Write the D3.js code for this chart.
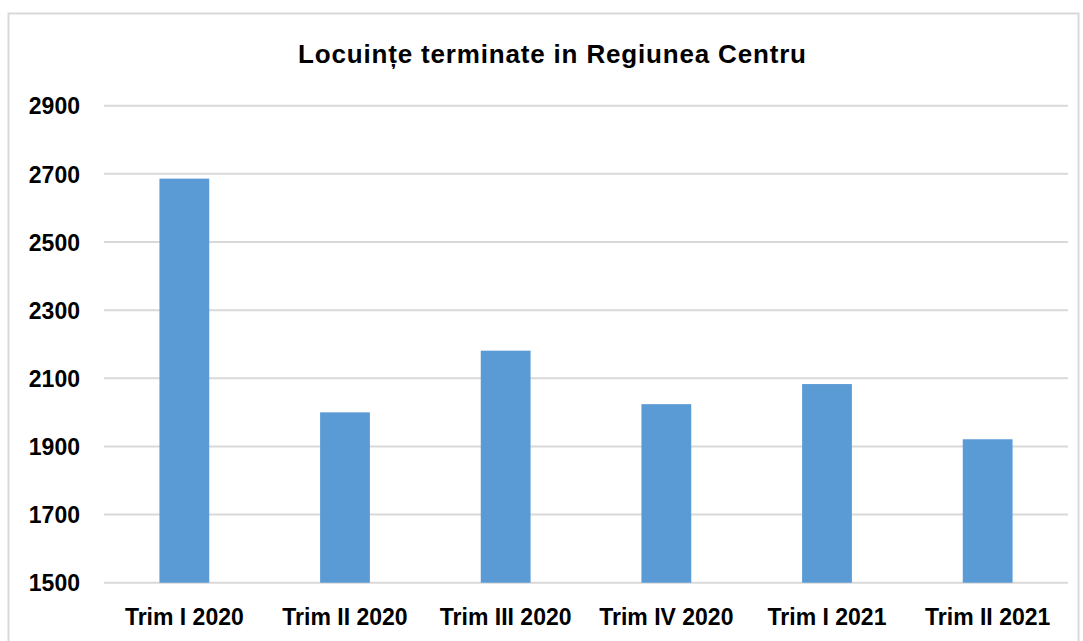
<!DOCTYPE html>
<html>
  <head>
    <meta charset="utf-8">
    <title>Locuințe terminate in Regiunea Centru</title>
    <style>
      body { margin: 0; background: #fff; }
      svg { font-family: "Liberation Sans", Arial, sans-serif; font-weight: bold; }
      .grid line { stroke: #d9d9d9; stroke-width: 2px; }
      .axis text { font-size: 23px; fill: #000; }
      .title { font-size: 26px; text-anchor: middle; }
    </style>
  </head>
  <body>
    <svg width="1083" height="641"></svg>

    <script src="https://d3js.org/d3.v7.min.js"></script>
    <script>
      // Data
      const categories = ['Trim I 2020', 'Trim II 2020', 'Trim III 2020', 'Trim IV 2020', 'Trim I 2021', 'Trim II 2021'];
      const values = [2686, 2000, 2181, 2024, 2083, 1921];
      const yTicks = [1500, 1700, 1900, 2100, 2300, 2500, 2700, 2900];
      const chartTitle = 'Locuințe terminate in Regiunea Centru';

      const width = 1083;
      const height = 641;
      const margin = { top: 105.7, right: 15, bottom: 58.3, left: 104 };

      const svg = d3.select('svg');

      // outer chart border
      svg.append('rect')
        .attr('x', 8.5)
        .attr('y', 13.5)
        .attr('width', 1070)
        .attr('height', 640)
        .attr('fill', 'none')
        .attr('stroke', '#d9d9d9')
        .attr('stroke-width', 2);

      const x = d3.scaleBand()
        .domain(categories)
        .range([margin.left, width - margin.right])
        .paddingInner(0.69)
        .paddingOuter(0.345);

      const y = d3.scaleLinear()
        .domain([1500, 2900])
        .range([height - margin.bottom, margin.top]);

      // gridlines
      svg.append('g')
        .attr('class', 'grid')
        .selectAll('line')
        .data(yTicks)
        .join('line')
        .attr('x1', margin.left)
        .attr('x2', width - margin.right)
        .attr('y1', d => y(d))
        .attr('y2', d => y(d));

      // bars
      svg.append('g')
        .selectAll('rect')
        .data(values)
        .join('rect')
        .attr('x', (d, i) => x(categories[i]))
        .attr('width', x.bandwidth())
        .attr('y', d => y(d))
        .attr('height', d => y(1500) - y(d))
        .attr('fill', '#5b9bd5');

      // y axis labels
      const yAxis = svg.append('g')
        .attr('class', 'axis')
        .attr('transform', `translate(${margin.left - 24},0)`)
        .call(d3.axisLeft(y).tickValues(yTicks).tickSize(0).tickPadding(0).tickFormat(d3.format('d')));
      yAxis.select('.domain').remove();
      yAxis.selectAll('text').attr('dy', '0.36em');

      // x axis labels
      const xAxis = svg.append('g')
        .attr('class', 'axis')
        .attr('transform', `translate(0,${y(1500)})`)
        .call(d3.axisBottom(x).tickSize(0).tickPadding(26));
      xAxis.select('.domain').remove();

      // title (original font is wider, so stretch the spacing a little)
      svg.append('text')
        .attr('class', 'title')
        .attr('x', 552)
        .attr('y', 63)
        .attr('textLength', 508)
        .attr('lengthAdjust', 'spacing')
        .text(chartTitle);
    </script>
  </body>
</html>
